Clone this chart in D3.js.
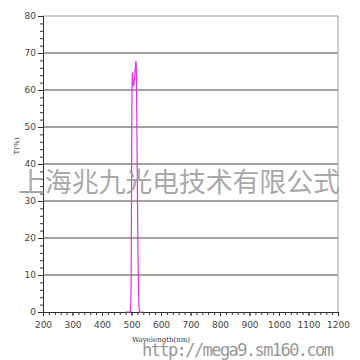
<!DOCTYPE html>
<html>
<head>
<meta charset="utf-8">
<script src="https://cdn.jsdelivr.net/npm/d3@7"></script>
<style>
  body { margin: 0; background: #fff; }
  .tick text { font-family: "DejaVu Sans", sans-serif; font-size: 9px; fill: #444; }
</style>
</head>
<body>
<div id="chart-area"></div>
<script>
// transmission curve, wavelength (nm) vs T (%)
var wavelengths = [480, 496, 498, 499, 500, 501, 502, 503, 505, 507, 510, 513, 515, 516, 517, 518, 520, 522, 524, 525, 527, 540];
var transmission = [0, 0, 3, 12, 30, 52, 62, 64.7, 62, 61, 63, 66, 67.8, 67, 62, 52, 33, 16, 6, 2, 0, 0];
var xTicks = [200, 300, 400, 500, 600, 700, 800, 900, 1000, 1100, 1200];
var yTicks = [0, 10, 20, 30, 40, 50, 60, 70, 80];

var margin = { top: 16, right: 22, bottom: 48, left: 43 },
    svgWidth = 360,
    svgHeight = 360,
    width = svgWidth - margin.left - margin.right,
    height = svgHeight - margin.top - margin.bottom;

var svg = d3.select("#chart-area")
            .append("svg")
            .attr("width", svgWidth)
            .attr("height", svgHeight);

var g = svg.append("g")
           .attr("transform", "translate(" + margin.left + "," + margin.top + ")");

var x = d3.scaleLinear().domain([200, 1200]).range([0, width]);
var y = d3.scaleLinear().domain([0, 80]).range([height, 0]);

// horizontal grid lines
g.selectAll("line.grid")
 .data(yTicks.filter(function(d) { return d > 0; }))
 .enter().append("line")
 .attr("class", "grid")
 .attr("x1", 0)
 .attr("x2", width)
 .attr("y1", function(d) { return y(d); })
 .attr("y2", function(d) { return y(d); })
 .attr("stroke", function(d) { return d === 80 ? "#999" : "#444"; })
 .attr("stroke-width", 1);

// right border
g.append("line")
 .attr("x1", width).attr("x2", width)
 .attr("y1", 0).attr("y2", height)
 .attr("stroke", "#999");

// minor ticks
var xMinor = d3.axisBottom(x).tickValues(d3.range(200, 1201, 20)).tickSize(3).tickFormat("");
var yMinor = d3.axisLeft(y).tickValues(d3.range(0, 81, 2)).tickSize(3).tickFormat("");
g.append("g").attr("transform", "translate(0," + height + ")").call(xMinor);
g.append("g").call(yMinor);

var xAxisGroup = g.append("g")
                  .attr("class", "x axis")
                  .attr("transform", "translate(0," + height + ")")
                  .call(d3.axisBottom(x).tickValues(xTicks).tickFormat(d3.format("d")).tickSize(4).tickPadding(6));

var yAxisGroup = g.append("g")
                  .attr("class", "y axis")
                  .call(d3.axisLeft(y).tickValues(yTicks).tickFormat(d3.format("d")).tickSize(5).tickPadding(2));

g.selectAll(".domain").attr("stroke", "#333");
g.selectAll(".tick line").attr("stroke", "#333");

// curve
var line = d3.line()
             .x(function(d, i) { return x(wavelengths[i]); })
             .y(function(d) { return y(d); });

g.append("path")
 .datum(transmission)
 .attr("d", line)
 .attr("fill", "none")
 .attr("stroke", "#e033e0")
 .attr("stroke-width", 1.2);

g.append("text")
 .attr("x", 118)
 .attr("y", height + 30)
 .attr("text-anchor", "middle")
 .attr("font-family", "DejaVu Serif, serif")
 .attr("font-size", 7)
 .attr("fill", "#333")
 .text("Wavelength(nm)");

g.append("text")
 .attr("transform", "rotate(-90)")
 .attr("x", -height / 2 + 18)
 .attr("y", -24)
 .attr("text-anchor", "middle")
 .attr("font-family", "DejaVu Serif, serif")
 .attr("font-size", 7)
 .attr("fill", "#333")
 .text("T(%)");

// watermarks
svg.append("text")
   .attr("x", 18)
   .attr("y", 192)
   .attr("font-family", "Noto Sans CJK SC")
   .attr("font-size", 27)
   .attr("fill", "#999")
   .attr("fill-opacity", 0.85)
   .attr("textLength", 322)
   .text("上海兆九光电技术有限公式");

svg.append("text")
   .attr("x", 142)
   .attr("y", 356)
   .attr("font-family", "DejaVu Sans Mono, monospace")
   .attr("font-size", 17)
   .attr("fill", "#999")
   .attr("textLength", 192)
   .text("http://mega9.sm160.com");
</script>
</body>
</html>
